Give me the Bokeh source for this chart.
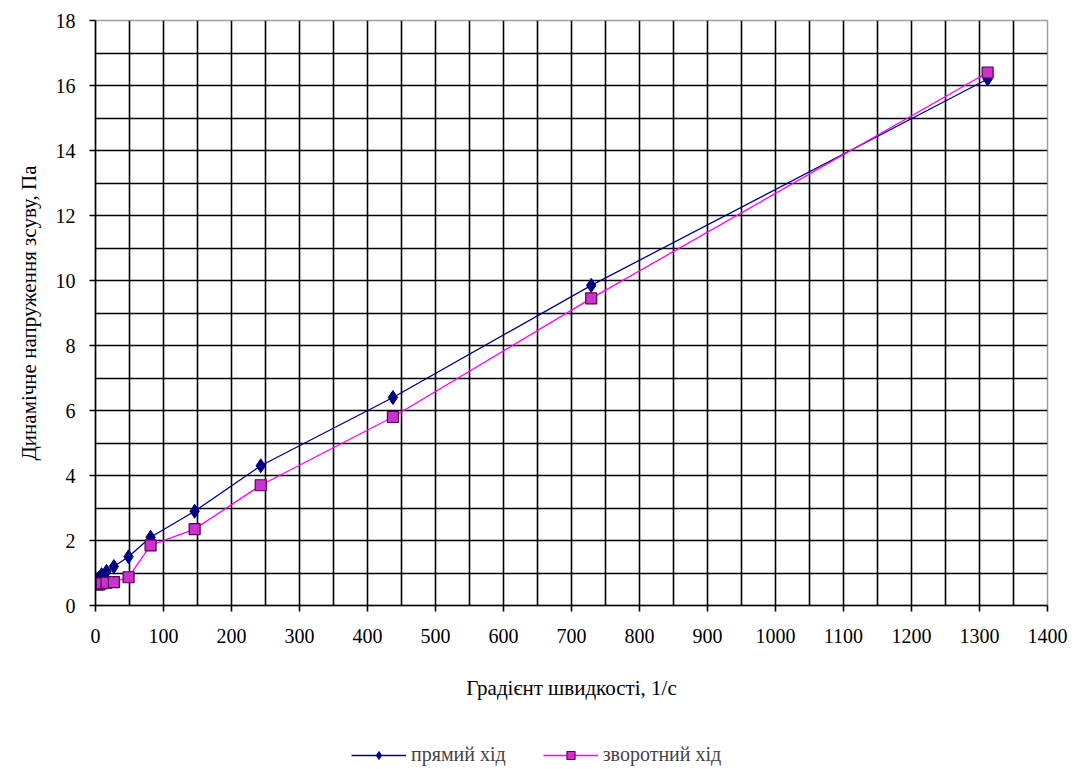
from bokeh.plotting import figure
from bokeh.layouts import column
from bokeh.models import Range1d, SingleIntervalTicker, Legend, LegendItem
from bokeh.embed import file_html
from bokeh.resources import INLINE

shear_rate = [3, 5.4, 9, 16.2, 27, 48.6, 81, 145.8, 243, 437.4, 729, 1312]
forward = [0.8, 0.85, 0.95, 1.05, 1.2, 1.5, 2.1, 2.9, 4.3, 6.4, 9.85, 16.2]
reverse = [0.65, 0.65, 0.68, 0.7, 0.72, 0.87, 1.85, 2.35, 3.7, 5.8, 9.45, 16.4]
series_names = ["прямий хід", "зворотний хід"]
x_title = "Градієнт швидкості, 1/с"
y_title = "Динамічне напруження зсуву, Па"

FONT = "Liberation Serif"
BLUE = "#000080"
PINK = "#FF00FF"
SQ_FILL = "#CC33CC"
SQ_LINE = "#550055"

p = figure(width=1077, height=720, output_backend="svg", toolbar_location=None,
           x_range=Range1d(0, 1400), y_range=Range1d(0, 18),
           min_border_left=95, min_border_right=30, min_border_top=20, min_border_bottom=115)
p.background_fill_color = "white"
p.border_fill_color = "white"
p.outline_line_color = "#a0a0a0"
p.outline_line_width = 1.5

p.xaxis.ticker = SingleIntervalTicker(interval=100, num_minor_ticks=0)
p.yaxis.ticker = SingleIntervalTicker(interval=2, num_minor_ticks=0)
p.xgrid.ticker = SingleIntervalTicker(interval=50)
p.ygrid.ticker = SingleIntervalTicker(interval=1)
for g in (p.xgrid, p.ygrid):
    g.grid_line_color = "black"
    g.grid_line_width = 1.6
    g.grid_line_alpha = 1.0

for ax in (p.xaxis, p.yaxis):
    ax.axis_line_color = "black"
    ax.axis_line_width = 1.6
    ax.major_tick_line_color = "black"
    ax.major_tick_line_width = 1.6
    ax.major_tick_in = 0
    ax.major_tick_out = 6
    ax.minor_tick_line_color = None
    ax.major_label_text_font = FONT
    ax.major_label_text_font_size = "20px"
    ax.major_label_text_color = "black"
    ax.axis_label_text_font = FONT
    ax.axis_label_text_font_size = "21px"
    ax.axis_label_text_font_style = "normal"
    ax.axis_label_text_color = "black"

p.xaxis.axis_label = x_title
p.yaxis.axis_label = y_title
p.xaxis.major_label_standoff = 17
p.yaxis.major_label_standoff = 14
p.xaxis.axis_label_standoff = 30
p.yaxis.axis_label_standoff = 12

p.line(shear_rate, forward, line_color=BLUE, line_width=1.3)
p.scatter(shear_rate, forward, marker="diamond", size=14, fill_color=BLUE, line_color=BLUE)
p.line(shear_rate, reverse, line_color=PINK, line_width=1.3)
p.scatter(shear_rate, reverse, marker="square", size=11,
          fill_color=SQ_FILL, line_color=SQ_LINE, line_width=1.2)

# Legend strip below the chart (its own renderers lie outside its visible range)
lg = figure(width=1077, height=49, output_backend="svg", toolbar_location=None,
            x_range=Range1d(-200, -100), y_range=Range1d(0, 18),
            min_border=0, min_border_left=0, min_border_right=0,
            min_border_top=0, min_border_bottom=0)
lg.axis.visible = False
lg.grid.visible = False
lg.outline_line_color = None
lg.background_fill_color = "white"
lg.border_fill_color = "white"
a1 = lg.line(shear_rate, forward, line_color=BLUE, line_width=1.3)
b1 = lg.scatter(shear_rate, forward, marker="diamond", size=14, fill_color=BLUE, line_color=BLUE)
a2 = lg.line(shear_rate, reverse, line_color=PINK, line_width=1.3)
b2 = lg.scatter(shear_rate, reverse, marker="square", size=11,
                fill_color=SQ_FILL, line_color=SQ_LINE, line_width=1.2)

legend = Legend(items=[LegendItem(label=series_names[0], renderers=[a1, b1]),
                       LegendItem(label=series_names[1], renderers=[a2, b2])],
                orientation="horizontal", location=(256, 3),
                border_line_color=None, background_fill_alpha=0,
                label_text_font=FONT, label_text_font_size="20px",
                glyph_width=55, spacing=37, label_standoff=5, padding=0, margin=0)
lg.add_layout(legend)

layout = column(p, lg, spacing=0)
open("out.html", "w").write(file_html(layout, INLINE))
